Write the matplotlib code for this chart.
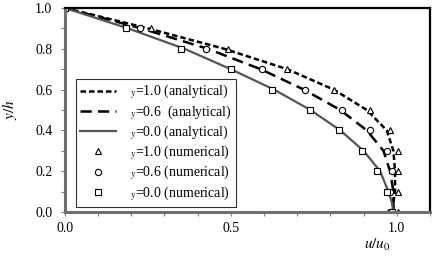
import matplotlib
matplotlib.use("Agg")
import matplotlib.pyplot as plt
import numpy as np

plt.rcParams["font.family"] = ["Liberation Serif", "DejaVu Serif"]
plt.rcParams["mathtext.fontset"] = "stix"

# analytical profiles
y_an = [1.0, 0.9, 0.8, 0.7, 0.6, 0.5, 0.4, 0.3, 0.2, 0.1, 0.05, 0.0]
x_an_10 = [0.0, 0.25, 0.48, 0.67, 0.81, 0.91, 0.97, 0.99, 0.995, 0.995, 0.99, 0.99]
x_an_06 = [0.0, 0.23, 0.43, 0.59, 0.72, 0.83, 0.91, 0.96, 0.98, 0.99, 0.99, 0.99]
x_an_00 = [0.0, 0.19, 0.36, 0.50, 0.63, 0.74, 0.83, 0.90, 0.95, 0.975, 0.985, 0.99]

# numerical results
y_num = [1.0, 0.9, 0.8, 0.7, 0.6, 0.5, 0.4, 0.3, 0.2, 0.1, 0.0]
x_num_10 = [0.0, 0.26, 0.49, 0.67, 0.81, 0.92, 0.98, 1.005, 1.005, 1.005, 1.005]
x_num_06 = [0.0, 0.225, 0.425, 0.595, 0.725, 0.835, 0.92, 0.97, 0.985, 0.98, 0.98]
x_num_00 = [0.0, 0.185, 0.35, 0.50, 0.625, 0.74, 0.825, 0.895, 0.94, 0.97, 0.985]

fig = plt.figure(figsize=(4.36, 2.57), dpi=100)
ax = fig.add_axes([0.149, 0.175, 0.837, 0.794])

ax.plot(x_an_10, y_an, color="black", lw=1.8, linestyle=(0, (2.2, 1.2)),
        label=r"$_{y}$=1.0 (analytical)")
ax.plot(x_an_06, y_an, color="black", lw=1.8, linestyle=(0, (4.5, 2.5)),
        label=r"$_{y}$=0.6  (analytical)")
ax.plot(x_an_00, y_an, color="#555555", lw=1.6, linestyle="-",
        label=r"$_{y}$=0.0 (analytical)")
ax.plot(x_num_10, y_num, linestyle="none", marker="^", ms=5, mfc="white",
        mec="black", mew=0.8, label=r"$_{y}$=1.0 (numerical)")
ax.plot(x_num_06, y_num, linestyle="none", marker="o", ms=4.5, mfc="white",
        mec="black", mew=0.8, label=r"$_{y}$=0.6 (numerical)")
ax.plot(x_num_00, y_num, linestyle="none", marker="s", ms=4.5, mfc="white",
        mec="black", mew=0.8, label=r"$_{y}$=0.0 (numerical)")

ax.set_xlim(0, 1.1)
ax.set_ylim(0, 1.0)
ax.set_xticks([0.0, 0.5, 1.0])
ax.set_xticks(np.arange(0, 1.11, 0.1), minor=True)
ax.set_yticks([0.0, 0.2, 0.4, 0.6, 0.8, 1.0])
ax.set_yticks(np.arange(0, 1.01, 0.1), minor=True)
ax.xaxis.set_major_formatter(matplotlib.ticker.FormatStrFormatter("%.1f"))
ax.yaxis.set_major_formatter(matplotlib.ticker.FormatStrFormatter("%.1f"))
ax.tick_params(which="both", direction="out", length=3, width=0.8,
               color="#808080", labelsize=10, pad=6)
ax.tick_params(axis="x", pad=4)

for side in ["left", "bottom"]:
    ax.spines[side].set_color("#707070")
    ax.spines[side].set_linewidth(2.2)
for side in ["top", "right"]:
    ax.spines[side].set_color("black")
    ax.spines[side].set_linewidth(1.6)

ax.set_ylabel(r"$y/h$", fontsize=11)
ax.yaxis.set_label_coords(-0.125, 0.5)
ax.set_xlabel(r"$u/u_0$", fontsize=11)
ax.xaxis.set_label_coords(0.855, -0.12)

leg = ax.legend(loc="lower left", bbox_to_anchor=(0.022, 0.012), fontsize=10,
                frameon=True, fancybox=False, edgecolor="black",
                handlelength=2.6, labelspacing=0.12, borderpad=0.3,
                handletextpad=1.0, borderaxespad=0.2)
leg.get_frame().set_linewidth(0.8)

fig.savefig("out.png", dpi=100)
